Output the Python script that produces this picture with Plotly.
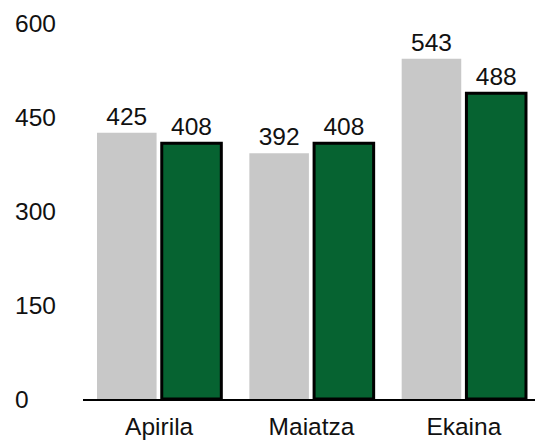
import plotly.graph_objects as go

categories = ["Apirila", "Maiatza", "Ekaina"]
series_a = [425, 392, 543]
series_b = [408, 408, 488]
y_tickvals = [0, 150, 300, 450, 600]
y_ticktext = ["0\u2007\u2007", "150", "300", "450", "600"]

font = dict(family="Liberation Sans, Arial, sans-serif", size=24.5, color="#111111")

fig = go.Figure()
fig.add_trace(go.Bar(
    x=categories, y=series_a, marker=dict(color="#c8c8c8", line=dict(width=0)),
    text=series_a, textposition="outside", textfont=font, cliponaxis=False,
    constraintext="none",
))
fig.add_trace(go.Bar(
    x=categories, y=series_b, marker=dict(color="#066331", line=dict(color="#000000", width=3)),
    text=series_b, textposition="outside", textfont=font, cliponaxis=False,
    constraintext="none",
))
fig.update_layout(
    width=543, height=445,
    margin=dict(l=75, r=11, t=15, b=54, autoexpand=False),
    paper_bgcolor="white", plot_bgcolor="white",
    barmode="group", bargap=0.15, bargroupgap=0.08,
    showlegend=False, font=font,
    xaxis=dict(showline=True, linecolor="black", linewidth=2, ticks="", showgrid=False,
               tickfont=font, range=[-0.5, 2.5], ticklabelstandoff=5),
    yaxis=dict(range=[0, 600], tickvals=y_tickvals, ticktext=y_ticktext, showgrid=False,
               zeroline=False, showline=False, ticks="", tickfont=font, ticklabelstandoff=26),
)
fig.write_html("out.html")
